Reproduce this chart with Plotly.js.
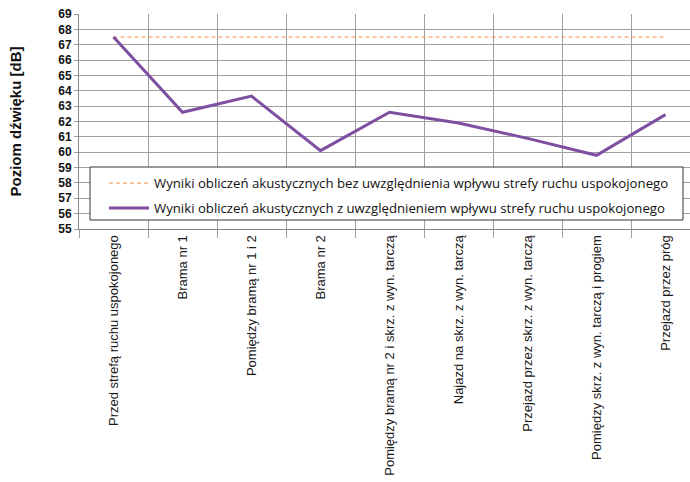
<!DOCTYPE html>
<html>
<head>
<meta charset="utf-8">
<script src="https://cdn.plot.ly/plotly-3.0.1.min.js"></script>
<style>html,body{margin:0;padding:0;background:#fff;overflow:hidden}</style>
</head>
<body>
<div id="chart" style="width:690px;height:482px"></div>
<script>
var categories = [
  "Przed strefą ruchu uspokojonego",
  "Brama nr 1",
  "Pomiędzy bramą nr 1 i 2",
  "Brama nr 2",
  "Pomiędzy bramą nr 2 i skrz. z wyn. tarczą",
  "Najazd na skrz. z wyn. tarczą",
  "Przejazd przez skrz. z wyn. tarczą",
  "Pomiędzy skrz. z wyn. tarczą i progiem",
  "Przejazd przez próg"
];
var seriesNames = [
  "Wyniki obliczeń akustycznych bez uwzględnienia wpływu strefy ruchu uspokojonego",
  "Wyniki obliczeń akustycznych z uwzględnieniem wpływu strefy ruchu uspokojonego"
];
var valuesWithout = [67.5, 67.5, 67.5, 67.5, 67.5, 67.5, 67.5, 67.5, 67.5];
var valuesWith = [67.5, 62.6, 63.65, 60.1, 62.6, 61.9, 60.9, 59.8, 62.45];
var yTicks = [55,56,57,58,59,60,61,62,63,64,65,66,67,68,69];

var traces = [
  {x: categories, y: valuesWithout, name: seriesNames[0], type: 'scatter', mode: 'lines',
   line: {color: '#F58A4E', width: 1, dash: '4px,3px'}, legend: 'legend'},
  {x: categories, y: valuesWith, name: seriesNames[1], type: 'scatter', mode: 'lines',
   line: {color: '#7E4FA0', width: 3}, legend: 'legend2'}
];

var legFont = {family: 'Open Sans, sans-serif', size: 13.2, color: '#111'};
var layout = {
  width: 690, height: 482,
  margin: {l: 79, r: 0, t: 14, b: 253},
  paper_bgcolor: '#fff', plot_bgcolor: '#fff',
  showlegend: true,
  xaxis: {
    type: 'category', range: [-0.5, 8.355], tickson: 'boundaries',
    showgrid: true, gridcolor: '#a0a0a0', gridwidth: 1,
    showline: true, linecolor: '#868686', linewidth: 1,
    ticks: 'outside', ticklen: 8, tickcolor: '#a0a0a0',
    tickangle: -90, automargin: false,
    tickfont: {family: 'Liberation Sans, Arial, sans-serif', size: 13, color: '#1a1a1a'}
  },
  yaxis: {
    range: [55, 69], tickvals: yTicks, ticktext: yTicks.map(String),
    showgrid: true, gridcolor: '#a0a0a0', gridwidth: 1, zeroline: false,
    showline: true, linecolor: '#868686', linewidth: 1,
    ticks: 'outside', ticklen: 4, tickcolor: '#a0a0a0', automargin: false,
    tickfont: {family: 'Liberation Sans, Arial, sans-serif', size: 12, color: '#111', weight: 'bold'},
    title: {text: 'Poziom dźwięku [dB]', standoff: 32,
      font: {family: 'Liberation Sans, Arial, sans-serif', size: 15, color: '#111', weight: 'bold'}}
  },
  shapes: [{type: 'rect', xref: 'paper', yref: 'paper', layer: 'above',
    x0: (90-79)/611, x1: (683-79)/611, y0: (229-220)/215, y1: (229-167)/215,
    fillcolor: '#fff', line: {color: '#333', width: 1}}],
  legend: {x: (104-79)/611, y: (229-168)/215, xanchor: 'left', yanchor: 'top',
    bgcolor: 'rgba(0,0,0,0)', borderwidth: 0, itemwidth: 40, font: legFont},
  legend2: {x: (104-79)/611, y: (229-193)/215, xanchor: 'left', yanchor: 'top',
    bgcolor: 'rgba(0,0,0,0)', borderwidth: 0, itemwidth: 40, font: legFont}
};

Plotly.newPlot('chart', traces, layout, {displayModeBar: false, staticPlot: true});
</script>
</body>
</html>
